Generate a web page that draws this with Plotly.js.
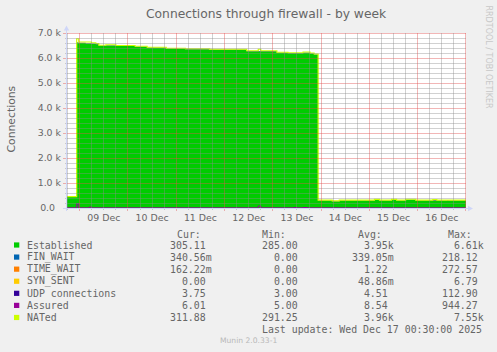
<!DOCTYPE html>
<html><head><meta charset="utf-8">
<script src="https://cdn.plot.ly/plotly-3.0.1.min.js"></script>
<style>html,body{margin:0;padding:0;background:#F0F0F0;}#chart{width:497px;height:352px;}</style>
</head><body><div id="chart"></div>
<script>
// ---- data ----
const times = [
 '2025-12-08 17:30','2025-12-08 22:30','2025-12-08 23:30','2025-12-09 03:00','2025-12-09 04:45',
 '2025-12-09 05:45','2025-12-09 08:00','2025-12-09 09:30','2025-12-09 13:00','2025-12-09 18:00',
 '2025-12-10 03:30','2025-12-10 09:30','2025-12-10 19:00','2025-12-11 04:30','2025-12-11 16:30',
 '2025-12-12 11:00','2025-12-12 16:45','2025-12-12 18:00','2025-12-13 02:00','2025-12-13 07:30',
 '2025-12-13 10:30','2025-12-13 11:30','2025-12-13 15:00','2025-12-13 17:00','2025-12-13 18:30',
 '2025-12-13 20:30','2025-12-13 22:30','2025-12-14 05:30','2025-12-14 09:00','2025-12-15 02:30',
 '2025-12-15 05:00','2025-12-15 11:00','2025-12-15 13:30','2025-12-15 18:00','2025-12-15 23:00',
 '2025-12-16 07:30','2025-12-16 09:30','2025-12-16 14:30','2025-12-16 15:30','2025-12-17 00:00'];
const established = [440,6620,6600,6580,6580, 6570,6550,6490,6500,6480, 6450,6410,6370,6350,6330,
 6270,6270,6270,6210,6190, 6190,6190,6210,6210,6180, 6140,300,270,300,330, 300,330,300,335,300,
 300,300,300,300,305];
const finWait = [0.3,0.3,0.3,0.3,0.3, 0.3,0.3,0.3,0.3,0.3, 0.3,0.3,0.3,0.3,0.3, 0.3,0.3,0.3,0.3,0.3,
 0.3,0.3,0.3,0.3,0.3, 0.3,0.3,0.3,0.3,0.3, 0.3,0.3,0.3,0.3,0.3, 0.3,0.3,0.3,0.3,0.3];
const timeWait = [1,1,1,1,1, 1,1,1,1,1, 1,1,1,1,1, 1,1,1,1,1, 1,1,1,1,1, 1,1,1,1,1, 1,1,1,1,1,
 1,1,12,1,1];
const synSent = [0,0,0,0,0, 0,0,0,0,0, 0,0,0,0,0, 0,0,0,0,0, 0,0,0,0,0, 0,0,0,0,0, 0,0,0,0,0, 0,0,0,0,0];
const udp = [4,4,4,4,4, 4,4,4,4,4, 4,4,4,4,4, 4,4,4,4,4, 4,4,4,4,4, 4,4,4,4,4, 4,4,4,4,4,
 20,4,4,4,4];
const assured = [6,170,6,6,40, 6,6,6,6,6, 6,6,6,6,6, 6,80,6,6,6, 20,6,20,6,6, 6,6,6,6,6, 6,6,6,6,6,
 6,6,6,6,6];
const nated = [455,6770,6640,6640,6640, 6610,6580,6510,6530,6500, 6470,6430,6390,6370,6350,
 6290,6350,6290,6230,6210, 6210,6210,6240,6240,6200, 6160,315,285,315,345, 315,345,315,350,315,
 335,315,320,315,312];

const seriesNames = ['Established','FIN_WAIT','TIME_WAIT','SYN_SENT','UDP connections','Assured','NATed'];
const seriesColors = ['#00CC00','#0066B3','#FF8000','#FFCC00','#330099','#990099','#CCFF00'];
const curVals = ['305.11','340.56m','162.22m','0.00','3.75','6.01','311.88'];
const minVals = ['285.00','0.00','0.00','0.00','3.00','5.00','291.25'];
const avgVals = ['3.95k','339.05m','1.22','48.86m','4.51','8.54','3.96k'];
const maxVals = ['6.61k','218.12','272.57','6.79','112.90','944.27','7.55k'];
const yTickVals = [0,1000,2000,3000,4000,5000,6000,7000];
const yTickText = ['0.0\u00A0\u00A0','1.0 k','2.0 k','3.0 k','4.0 k','5.0 k','6.0 k','7.0 k'];
const titleText = 'Connections through firewall - by week';
const yTitle = 'Connections';
const lastUpdate = 'Last update: Wed Dec 17 00:30:00 2025';
const muninVer = 'Munin 2.0.33-1';
const rrdText = 'RRDTOOL / TOBI OETIKER';
const xStart = '2025-12-08 17:41', xEnd = '2025-12-17 00:00';
const yMax = 7000;

// ---- layout helpers ----
const W = 497, H = 352;
const P = {l:67, r:466, t:33, b:208};
const px = x => (x - P.l) / (P.r - P.l);
const py = y => (P.b - y) / (P.b - P.t);
const FONT = '#666666';
const SANS = 'DejaVu Sans', MONO = 'DejaVu Sans Mono';
const NB = '\u00A0';
function fmt(s){
  const m = s.match(/^([0-9.]+)([a-zA-Z]?)$/);
  return NB.repeat(Math.max(0, 6 - m[1].length)) + m[1] + m[2];
}

const stackData = [established, finWait, timeWait, synSent, udp];
const traces = stackData.map((arr, i) => ({
  type:'scatter', mode:'lines', x: times, y: arr, stackgroup:'one',
  name: seriesNames[i], fillcolor: seriesColors[i],
  line:{width:0, shape:'hv', color: seriesColors[i]}, hoverinfo:'skip'
}));
traces.push({type:'scatter', mode:'lines', x: times, y: assured, name: seriesNames[5],
  line:{width:1, shape:'hv', color: seriesColors[5]}, hoverinfo:'skip'});
traces.push({type:'scatter', mode:'lines', x: times, y: nated, name: seriesNames[6],
  line:{width:1.2, shape:'hv', color: seriesColors[6]}, hoverinfo:'skip'});

// grid drawn above the data, like rrdtool (snapped to pixel centres)
const shapes = [];
const minorC = 'rgba(140,140,140,0.4)', majorC = 'rgba(225,80,80,0.42)';
const gridLine = (x0,y0,x1,y1,c) => shapes.push({type:'line', layer:'above', xref:'paper', yref:'paper',
  x0:px(x0), y0:py(y0), x1:px(x1), y1:py(y1), line:{color:c, width:1}});
for (let v = 200; v <= yMax; v += 200) {
  const major = v % 1000 === 0;
  const yp = Math.floor(P.b - v/yMax*(P.b-P.t)) + 0.5;
  gridLine(major ? 63 : 65, yp, P.r, yp, major ? majorC : minorC);
}
const H6 = 6*3600*1000;
const t0 = Date.parse(xStart.replace(' ','T')+':00Z'), t1 = Date.parse(xEnd.replace(' ','T')+':00Z');
for (let t = Date.UTC(2025,11,8,18); t <= t1; t += H6) {
  if (t < t0) continue;
  const major = new Date(t).getUTCHours() === 0;
  const xp = Math.min(Math.floor(P.l + (t-t0)/(t1-t0)*(P.r-P.l)), P.r-1) + 0.5;
  gridLine(xp, P.t, xp, major ? 211 : 210, major ? majorC : minorC);
}
// axis lines and arrows
const AX = '#CFD6F8';
shapes.push({type:'line', layer:'above', xref:'paper', yref:'paper', x0:px(63), x1:px(470), y0:py(208.5), y1:py(208.5), line:{color:AX, width:1}});
shapes.push({type:'line', layer:'above', xref:'paper', yref:'paper', x0:px(66.5), x1:px(66.5), y0:py(211), y1:py(29), line:{color:AX, width:1}});
shapes.push({type:'path', layer:'above', xref:'paper', yref:'paper',
  path:`M${px(66.5)},${py(25.5)} L${px(63.8)},${py(30.5)} L${px(69.2)},${py(30.5)} Z`, fillcolor:AX, line:{width:0}});
shapes.push({type:'path', layer:'above', xref:'paper', yref:'paper',
  path:`M${px(473)},${py(208.5)} L${px(468)},${py(205.8)} L${px(468)},${py(211.2)} Z`, fillcolor:AX, line:{width:0}});

// legend
const annotations = [];
const ann = (text, x, y, opts) => annotations.push(Object.assign({text, xref:'paper', yref:'paper',
  x: px(x), y: py(y), showarrow:false, xanchor:'left', yanchor:'middle', borderpad:0, borderwidth:0,
  font:{family:MONO, size:9.9, color:FONT}}, opts||{}));
const headY = 234.3;
ann('Cur:', 176.7, headY); ann('Min:', 262.3, headY); ann('Avg:', 358.2, headY); ann('Max:', 447.7, headY);
seriesNames.forEach((name, i) => {
  const y = 245 + i*12.08;
  shapes.push({type:'rect', layer:'above', xref:'paper', yref:'paper', x0:px(14), x1:px(19.3),
    y0:py(y-2.6), y1:py(y+2.6), fillcolor: seriesColors[i], line:{width:0}});
  ann(name, 26.7, y);
  ann(fmt(curVals[i]), 170, y);
  ann(fmt(minVals[i]), 261.7, y);
  ann(fmt(avgVals[i]), 351.7, y);
  ann(fmt(maxVals[i]), 441.7, y);
});
ann(lastUpdate, 261.7, 329.7);
ann(muninVer, 248.5, 340.5, {xanchor:'center', font:{family:SANS, size:7.6, color:'#B8B8B8'}});
ann(yTitle, 11, 119.5, {xanchor:'center', textangle:-90, font:{family:SANS, size:10.8, color:FONT}});
ann(rrdText, 488, 56.5, {xanchor:'center', textangle:90, font:{family:SANS, size:8, color:'#C8C8C8'}});

const layout = {
  width:W, height:H, paper_bgcolor:'#F0F0F0', plot_bgcolor:'#FFFFFF',
  margin:{l:P.l, r:W-P.r, t:P.t, b:H-P.b, pad:0},
  showlegend:false,
  title:{text:titleText, x:248/W, xanchor:'center', xref:'paper', yref:'container', y:1-14/H, yanchor:'middle',
    font:{family:SANS, size:12.3, color:FONT}},
  xaxis:{type:'date', range:[xStart, xEnd], dtick:86400000, tick0:'2025-12-09', tickformat:'%d %b',
    ticklabelmode:'period', showgrid:false, zeroline:false, showline:false,
    ticks:'', ticklabelstandoff:3, tickfont:{family:SANS, size:9.4, color:FONT}},
  yaxis:{range:[0,yMax], tickvals:yTickVals, ticktext:yTickText, showgrid:false, zeroline:false,
    showline:false, ticks:'', ticklabelstandoff:5, tickfont:{family:SANS, size:9.4, color:FONT}},
  shapes, annotations
};
Plotly.newPlot('chart', traces, layout, {staticPlot:true, displayModeBar:false});
</script></body></html>
